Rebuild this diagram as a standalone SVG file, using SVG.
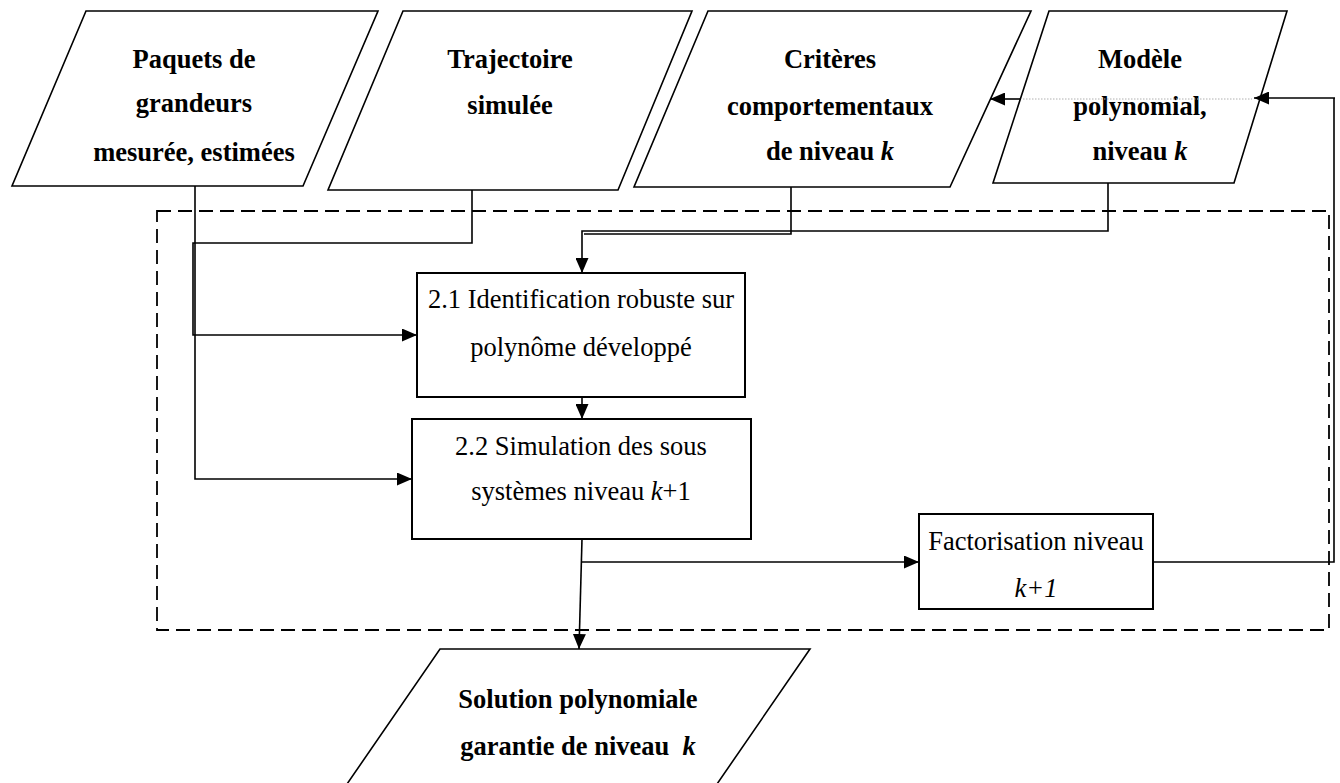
<svg xmlns="http://www.w3.org/2000/svg" width="1340" height="783" viewBox="0 0 1340 783">
  <style>
    text { font-family: "Liberation Serif", "Times New Roman", serif; font-size: 26.5px; fill: #000; text-anchor: middle; }
    .b { font-weight: bold; }
    .i { font-style: italic; }
    .shape { fill: #fff; stroke: #000; stroke-width: 1.6; }
    .box { fill: #fff; stroke: #000; stroke-width: 2; }
    .wire { fill: none; stroke: #000; stroke-width: 1.6; }
    .frame { fill: none; stroke: #000; stroke-width: 1.8; stroke-dasharray: 14 7; }
  </style>
  <defs>
    <marker id="arrow" viewBox="0 0 15 13" refX="15" refY="6.5" markerWidth="15" markerHeight="13" markerUnits="userSpaceOnUse" orient="auto">
      <path d="M0,0 L15,6.5 L0,13 Z" fill="#000"/>
    </marker>
  </defs>

  <rect id="frame" class="frame" x="157" y="211" width="1172" height="419"/>

  <g id="input-paquets">
    <polygon class="shape" points="86,11 378,11 303,186 12,186"/>
    <text class="b" x="194" y="68">Paquets de</text>
    <text class="b" x="194" y="112">grandeurs</text>
    <text class="b" x="194" y="161">mesurée, estimées</text>
  </g>

  <g id="input-trajectoire">
    <polygon class="shape" points="403,11 692,11 618,190 328,190"/>
    <text class="b" x="510" y="68">Trajectoire</text>
    <text class="b" x="510" y="114">simulée</text>
  </g>

  <g id="input-criteres">
    <polygon class="shape" points="708,11 1031,11 950,187 634,187"/>
    <text class="b" x="830" y="68">Critères</text>
    <text class="b" x="830" y="115">comportementaux</text>
    <text class="b" x="830" y="160">de niveau <tspan class="i">k</tspan></text>
  </g>

  <g id="input-modele">
    <polygon class="shape" points="1049,11 1287,11 1234,183 993,183"/>
    <text class="b" x="1140" y="68">Modèle</text>
    <text class="b" x="1140" y="115">polynomial,</text>
    <text class="b" x="1140" y="160">niveau <tspan class="i">k</tspan></text>
  </g>

  <g id="step-identification">
    <rect class="box" x="417" y="273" width="328" height="124"/>
    <text x="581" y="308">2.1 Identification robuste sur</text>
    <text x="581" y="356">polynôme développé</text>
  </g>

  <g id="step-simulation">
    <rect class="box" x="412" y="419" width="339" height="120"/>
    <text x="581" y="455">2.2 Simulation des sous</text>
    <text x="581" y="500">systèmes niveau <tspan class="i">k</tspan>+1</text>
  </g>

  <g id="step-factorisation">
    <rect class="box" x="919" y="514" width="234" height="95"/>
    <text x="1036" y="550">Factorisation niveau</text>
    <text class="i" x="1036" y="597">k+1</text>
  </g>

  <g id="output-solution">
    <polygon class="shape" points="440,649 810,649 706,800 336,800"/>
    <text class="b" x="578" y="708">Solution polynomiale</text>
    <text class="b" x="578" y="755">garantie de niveau&#160; <tspan class="i">k</tspan></text>
  </g>

  <g id="connectors">
    <!-- measured data into both steps -->
    <path class="wire" d="M195,186 V479 H412" marker-end="url(#arrow)"/>
    <path class="wire" d="M472,190 V243 H193 V335 H417" marker-end="url(#arrow)"/>
    <!-- criteria and model into identification -->
    <path class="wire" d="M1108,183 V231 H582 V273" marker-end="url(#arrow)"/>
    <path class="wire" d="M791,187 V234 H584"/>
    <!-- identification to simulation -->
    <path class="wire" d="M582,397 V419" marker-end="url(#arrow)"/>
    <!-- simulation to output and factorisation -->
    <path class="wire" d="M582,539 L579,649" marker-end="url(#arrow)"/>
    <path class="wire" d="M582,562 H919" marker-end="url(#arrow)"/>
    <!-- feedback loop to the model -->
    <path class="wire" d="M1153,562 H1334 V98"/>
    <path class="wire" d="M1335,98 H1254" stroke-width="3" marker-end="url(#arrow)"/>
    <!-- model to criteria -->
    <path d="M1023,99 H1252" fill="none" stroke="#b0b0b0" stroke-width="1" stroke-dasharray="1.5 1.5"/>
    <path class="wire" d="M1021,99 H990" marker-end="url(#arrow)"/>
  </g>
</svg>
